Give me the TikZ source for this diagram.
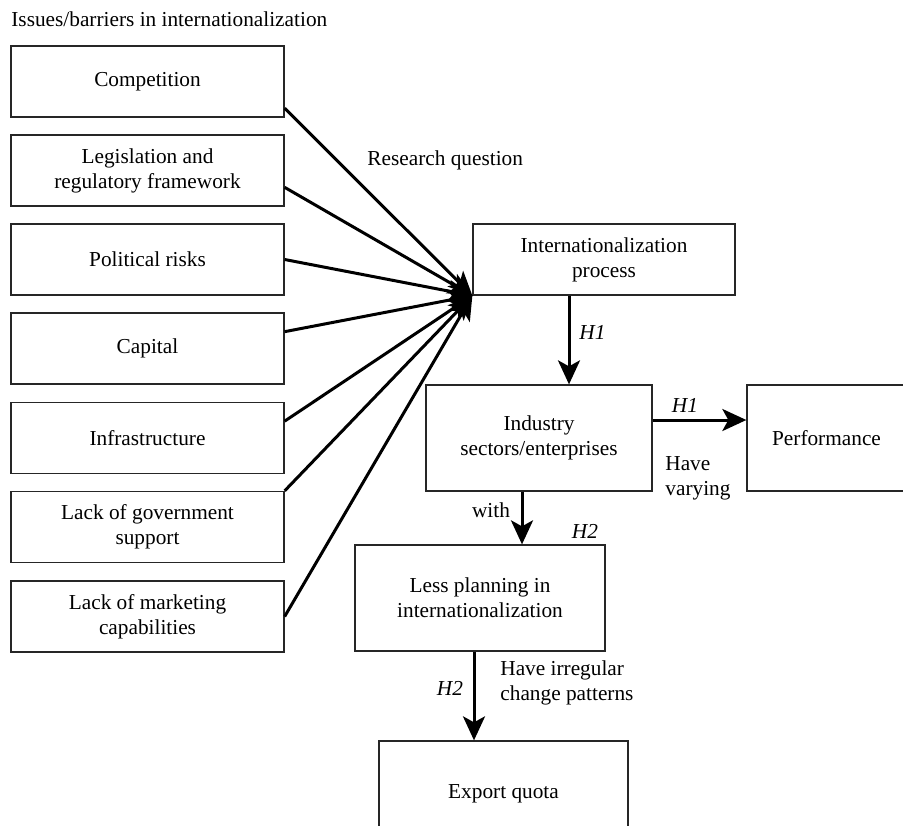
\documentclass[tikz,border=0pt]{standalone}
\usepackage{fontspec}
\setmainfont{Liberation Serif}
\usetikzlibrary{arrows.meta, positioning, calc}

\begin{document}
\begin{tikzpicture}[x=5pt, y=-5pt, font=\fontsize{10.65}{12.5}\selectfont,
	box/.style={draw=black!85, line width=0.65pt, align=center, inner sep=1pt, minimum width=136.5pt, minimum height=35.5pt},
	tall/.style={box, minimum height=53pt},
	arr/.style={line width=1.5pt, -{Stealth[length=12pt, width=11pt, inset=3pt]}},
	lbl/.style={inner sep=0pt}]
	\useasboundingbox (0,0) rectangle (90.3,82.5);
	% barriers
	\node[lbl, anchor=base west] (title) at (1.1,2.6) {Issues/barriers in internationalization};
	\node[box] (comp) at (14.75,8.15) {Competition};
	\node[box] (legis) at (14.75,17.05) {Legislation and\\regulatory framework};
	\node[box] (polit) at (14.75,25.95) {Political risks};
	\node[box] (capit) at (14.75,34.85) {Capital};
	\node[box] (infra) at (14.75,43.8) {Infrastructure};
	\node[box] (govsup) at (14.75,52.7) {Lack of government\\support};
	\node[box] (market) at (14.75,61.65) {Lack of marketing\\capabilities};
	% model
	\node[box, minimum width=131pt] (intl) at (60.4,25.95) {Internationalization\\process};
	\node[tall, minimum width=113pt] (ind) at (53.9,43.8) {Industry\\sectors/enterprises};
	\node[tall, minimum width=79.5pt] (perf) at (82.65,43.8) {Performance};
	\node[tall, minimum width=125pt] (plan) at (48.0,59.8) {Less planning in\\internationalization};
	\node[tall, minimum width=124.5pt] (quota) at (50.35,79.4) {Export quota};
	% arrows into the process
	\draw[arr] (comp.-11.8) -- (intl.south west);
	\draw[arr] (legis.-7.7) -- (intl.south west);
	\draw[arr] (polit.east) -- (intl.south west);
	\draw[arr] (capit.7.3) -- (intl.south west);
	\draw[arr] (infra.7.9) -- (intl.south west);
	\draw[arr] (govsup.north east) -- (intl.south west);
	\draw[arr] (market.east) -- (intl.south west);
	\node[lbl, anchor=base west] (rq) at (36.7,16.5) {Research question};
	% hypotheses
	\coordinate (hx) at (56.9,0);
	\draw[arr] (intl.south -| hx) -- (ind.north -| hx);
	\draw[arr] ([yshift=9pt]ind.east) -- ([yshift=9pt]perf.west);
	\draw[arr] ([xshift=-8.5pt]ind.south) -- ([xshift=-8.5pt]ind.south |- plan.north);
	\draw[arr] ([xshift=-3pt]plan.south) -- ([xshift=-3pt]plan.south |- quota.north);
	\node[lbl, anchor=base west] (h1a) at (57.9,33.9) {\textit{H1}};
	\node[lbl, anchor=base] (h1b) at (68.5,41.2) {\textit{H1}};
	\node[lbl, anchor=west, align=left] (vary) at (66.5,47.8) {Have\\varying};
	\node[lbl, anchor=base] (with) at (49.1,51.7) {with};
	\node[lbl, anchor=base] (h2a) at (58.5,53.8) {\textit{H2}};
	\node[lbl, anchor=base] (h2b) at (45.0,69.5) {\textit{H2}};
	\node[lbl, anchor=west, align=left] (irr) at (50.0,68.3) {Have irregular\\change patterns};
\end{tikzpicture}
\end{document}
